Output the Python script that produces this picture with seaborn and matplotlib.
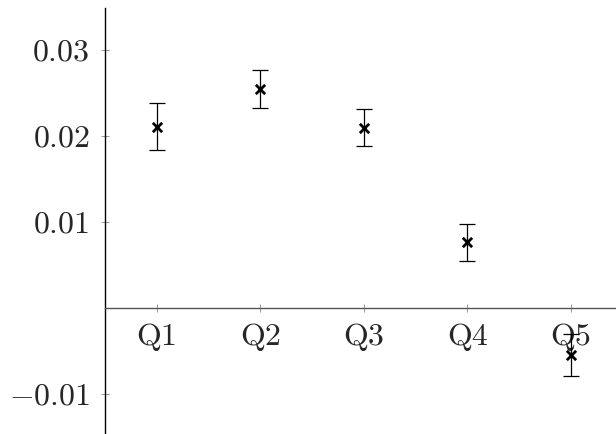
import matplotlib
matplotlib.use("Agg")
import matplotlib.pyplot as plt
import seaborn as sns
import pandas as pd

# values
groups = ["Q1", "Q2", "Q3", "Q4", "Q5"]
estimates = [0.02108, 0.02545, 0.02097, 0.00764, -0.00547]
errors = [0.00273, 0.00217, 0.00215, 0.00215, 0.00244]
yticks = [-0.01, 0.01, 0.02, 0.03]
ytick_labels = ["$-0.01$", "$0.01$", "$0.02$", "$0.03$"]

sns.set_style("white")
plt.rcParams["font.family"] = "serif"
plt.rcParams["font.serif"] = ["cmr10", "DejaVu Serif"]
plt.rcParams["mathtext.fontset"] = "cm"
plt.rcParams["axes.unicode_minus"] = False

df = pd.DataFrame({"pos": range(1, len(groups) + 1), "est": estimates, "err": errors})

fig = plt.figure(figsize=(6.16, 4.34), dpi=100)
ax = fig.add_axes([0.1705, 0.0, 0.8295, 0.9816])

ax.errorbar(df["pos"], df["est"], yerr=df["err"], fmt="none", ecolor="black",
            elinewidth=0.9, capsize=5.5, capthick=0.9, zorder=2)
sns.scatterplot(data=df, x="pos", y="est", marker="x", color="black", s=45,
                linewidth=2.0, ax=ax, zorder=3)

ax.set_xlim(0.5, 5.435)
ax.set_ylim(-0.01465, 0.03488)

ax.set_xticks(df["pos"], labels=groups)
ax.set_yticks(yticks, labels=ytick_labels)
ax.set_xlabel("")
ax.set_ylabel("")

ax.spines["bottom"].set_position(("data", 0))
ax.spines["top"].set_visible(False)
ax.spines["right"].set_visible(False)
ax.spines["left"].set_linewidth(1.0)
ax.spines["bottom"].set_linewidth(1.0)
ax.spines["left"].set_color("black")
ax.spines["bottom"].set_color("#555555")

ax.tick_params(axis="both", left=True, bottom=True, direction="inout",
               length=6, width=0.6, color="#888888", labelsize=23)
ax.tick_params(axis="y", pad=8)
ax.tick_params(axis="x", pad=8)

fig.savefig("out.png", dpi=100)
